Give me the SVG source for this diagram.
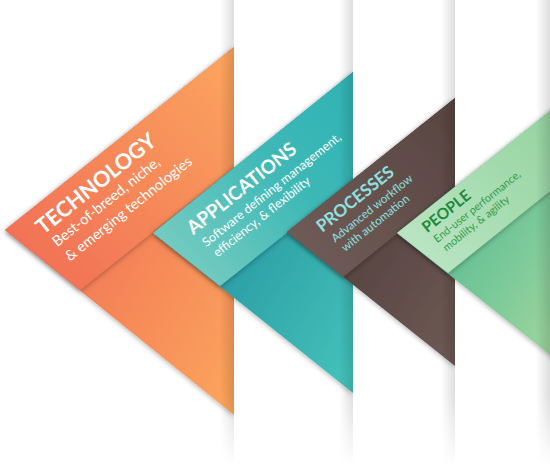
<svg xmlns="http://www.w3.org/2000/svg" width="550" height="466" viewBox="0 0 550 466">
<defs>
  <linearGradient id="gOrU" x1="0" y1="1" x2="1" y2="0"><stop offset="0" stop-color="#f06a55"/><stop offset="1" stop-color="#fca65e"/></linearGradient>
  <linearGradient id="gOrL" x1="0.2" y1="0.3" x2="1" y2="1"><stop offset="0" stop-color="#f06c56"/><stop offset="1" stop-color="#fca65c"/></linearGradient>
  <linearGradient id="gTeU" x1="0" y1="1" x2="1" y2="0"><stop offset="0" stop-color="#82d0c3"/><stop offset="0.6" stop-color="#3db8b6"/><stop offset="1" stop-color="#2fb3b5"/></linearGradient>
  <linearGradient id="gTeL" x1="0.3" y1="0.3" x2="1" y2="1"><stop offset="0" stop-color="#21919e"/><stop offset="1" stop-color="#46c4bb"/></linearGradient>
  <linearGradient id="gBrU" x1="0" y1="1" x2="1" y2="0"><stop offset="0" stop-color="#725e59"/><stop offset="1" stop-color="#574440"/></linearGradient>
  <linearGradient id="gBrL" x1="0.3" y1="0.3" x2="1" y2="1"><stop offset="0" stop-color="#4f3d39"/><stop offset="1" stop-color="#6e5a55"/></linearGradient>
  <linearGradient id="gGrU" x1="0" y1="1" x2="1" y2="0"><stop offset="0" stop-color="#bfe7c7"/><stop offset="1" stop-color="#92d29d"/></linearGradient>
  <linearGradient id="gGrL" x1="0.3" y1="0.3" x2="1" y2="1"><stop offset="0" stop-color="#52b992"/><stop offset="1" stop-color="#a3d89f"/></linearGradient>
  <linearGradient id="gStrip" x1="0" y1="0" x2="1" y2="0"><stop offset="0" stop-color="#000" stop-opacity="0"/><stop offset="1" stop-color="#000" stop-opacity="0.13"/></linearGradient>
  <linearGradient id="gFade" x1="0" y1="0" x2="0" y2="1"><stop offset="0" stop-color="#fff"/><stop offset="0.85" stop-color="#fff"/><stop offset="1" stop-color="#000"/></linearGradient>
  <mask id="fade" maskUnits="userSpaceOnUse" x="0" y="0" width="550" height="466"><rect width="550" height="466" fill="url(#gFade)"/></mask>
  <filter id="ds" x="-20%" y="-20%" width="140%" height="140%"><feDropShadow dx="0" dy="1.5" stdDeviation="2.5" flood-color="#000" flood-opacity="0.3"/></filter>
  <clipPath id="c1"><rect x="0" y="0" width="234" height="466"/></clipPath>
  <clipPath id="c2"><rect x="0" y="0" width="353" height="466"/></clipPath>
  <clipPath id="c3"><rect x="0" y="0" width="455" height="466"/></clipPath>
  <clipPath id="c4"><rect x="0" y="0" width="550" height="466"/></clipPath>
</defs>
<style>
  .t{font-family:Lato,'Open Sans',sans-serif;font-weight:700}
  .s{font-family:Lato,'Open Sans',sans-serif;font-weight:400}
  .strip{fill:url(#gStrip)}
</style>
<rect width="550" height="466" fill="#fff"/>

<g id="technology" clip-path="url(#c1)">
  <polygon points="5,230 234,47 234,415" fill="url(#gOrL)" filter="url(#ds)"/>
  <polygon points="5,230 234,47 234,167 80,290" fill="url(#gOrU)" filter="url(#ds)"/>
  <g transform="translate(5,230) rotate(-38.66)" fill="#fff">
    <text class="t" x="26.5" y="28" font-size="21.5">TECHNOLOGY</text>
    <text class="s" x="30" y="46" font-size="14.5">Best-of-breed, niche,</text>
    <text class="s" x="31" y="65.5" font-size="14.5">&amp; emerging technologies</text>
  </g>
</g>
<g mask="url(#fade)"><rect class="strip" x="220" y="0" width="14" height="466"/></g>

<g id="applications" clip-path="url(#c2)">
  <polygon points="153,233 353,72 353,393" fill="url(#gTeL)" filter="url(#ds)"/>
  <polygon points="153,233 353,72 353,180 220,286" fill="url(#gTeU)" filter="url(#ds)"/>
  <g transform="translate(153,233) rotate(-38.66)" fill="#fff">
    <text class="t" x="30" y="27" font-size="19">APPLICATIONS</text>
    <text class="s" x="33" y="44.5" font-size="12.5">Software defining management,</text>
    <text class="s" x="35" y="59.5" font-size="12.5">efficiency, &amp; flexibility</text>
  </g>
</g>
<g mask="url(#fade)"><rect class="strip" x="339" y="0" width="14" height="466"/></g>

<g id="processes" clip-path="url(#c3)">
  <polygon points="287,232 455,98 455,366" fill="url(#gBrL)" filter="url(#ds)"/>
  <polygon points="287,232 455,98 455,187 343,277" fill="url(#gBrU)" filter="url(#ds)"/>
  <g transform="translate(287,232) rotate(-38.66)" fill="#8fe1e1">
    <text class="t" x="27" y="22.5" font-size="17">PROCESSES</text>
    <text class="s" x="31" y="38.5" font-size="11.5">Advanced workflow</text>
    <text class="s" x="33" y="52" font-size="11.5">with automation</text>
  </g>
</g>
<g mask="url(#fade)"><rect class="strip" x="441" y="0" width="14" height="466"/></g>

<g id="people" clip-path="url(#c4)">
  <polygon points="397,233 560,103 560,363" fill="url(#gGrL)" filter="url(#ds)"/>
  <polygon points="397,233 560,103 560,183 448,273" fill="url(#gGrU)" filter="url(#ds)"/>
  <g transform="translate(397,233) rotate(-38.66)">
    <text class="t" x="23.4" y="19" font-size="15.5" fill="#1f8a3c">PEOPLE</text>
    <text class="s" x="25" y="33" font-size="10.8" fill="#2f9b4b">End-user performance,</text>
    <text class="s" x="27" y="45.5" font-size="10.8" fill="#2f9b4b">mobility, &amp; agility</text>
  </g>
</g>
<g mask="url(#fade)"><rect class="strip" x="536" y="0" width="14" height="466"/></g>
</svg>
